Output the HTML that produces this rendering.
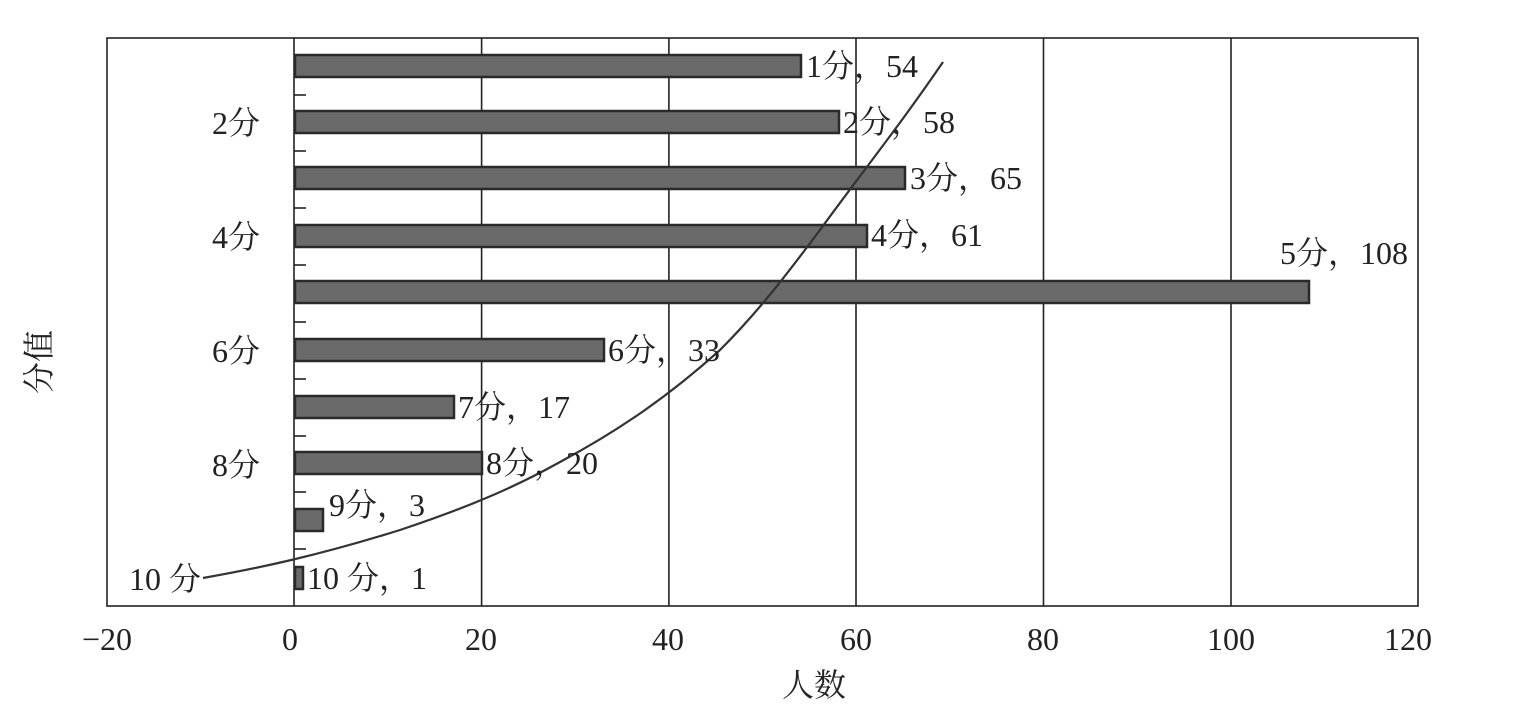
<!DOCTYPE html>
<html><head><meta charset="utf-8"><style>
html,body{margin:0;padding:0;background:#fff;}
svg text{font-family:"Liberation Serif","Noto Serif CJK SC",serif;fill:#222;}
</style></head><body>
<svg width="1538" height="719" viewBox="0 0 1538 719" xmlns="http://www.w3.org/2000/svg">
<g stroke="#222" stroke-width="1.6" fill="none">
<rect x="107" y="38" width="1311" height="568"/>
<line x1="294" y1="38" x2="294" y2="606"/>
<line x1="481.6" y1="38" x2="481.6" y2="606"/>
<line x1="668.9" y1="38" x2="668.9" y2="606"/>
<line x1="856" y1="38" x2="856" y2="606"/>
<line x1="1043.5" y1="38" x2="1043.5" y2="606"/>
<line x1="1231" y1="38" x2="1231" y2="606"/>
</g>
<g stroke="#222" stroke-width="1.6">
<line x1="294" y1="95" x2="306" y2="95"/><line x1="294" y1="151" x2="306" y2="151"/>
<line x1="294" y1="208" x2="306" y2="208"/><line x1="294" y1="265" x2="306" y2="265"/>
<line x1="294" y1="322" x2="306" y2="322"/><line x1="294" y1="379" x2="306" y2="379"/>
<line x1="294" y1="436" x2="306" y2="436"/><line x1="294" y1="492" x2="306" y2="492"/>
<line x1="294" y1="549" x2="306" y2="549"/>
</g>
<g fill="#6a6a6a" stroke="#2a2a2a" stroke-width="2.5">
<rect x="295" y="55" width="506" height="22"/>
<rect x="295" y="111" width="544" height="22"/>
<rect x="295" y="167" width="610" height="22"/>
<rect x="295" y="225" width="572" height="22"/>
<rect x="295" y="281" width="1014" height="22"/>
<rect x="295" y="339" width="309" height="22"/>
<rect x="295" y="396" width="159" height="22"/>
<rect x="295" y="452" width="187" height="22"/>
<rect x="295" y="509" width="28" height="22"/>
<rect x="295" y="567" width="8" height="22"/>
</g>
<path d="M203,578 C260,568 320,555 400,530 C460,510 510,490 560,462 C620,430 670,395 720,350 C760,310 790,270 820,230 C860,175 900,125 943,62" stroke="#333" stroke-width="2.2" fill="none"/>
<g font-size="32">
<text x="806" y="77">1分，54</text>
<text x="843" y="133">2分，58</text>
<text x="910" y="189">3分，65</text>
<text x="871" y="246">4分，61</text>
<text x="1408" y="264" text-anchor="end">5分，108</text>
<text x="608" y="361">6分，33</text>
<text x="458" y="418">7分，17</text>
<text x="486" y="474">8分，20</text>
<text x="329" y="516">9分，3</text>
<text x="307" y="589">10 分，1</text>
<g text-anchor="end">
<text x="260" y="134">2分</text>
<text x="260" y="248">4分</text>
<text x="260" y="362">6分</text>
<text x="260" y="476">8分</text>
<text x="201" y="590">10 分</text>
</g>
<g text-anchor="middle">
<text x="107" y="650">−20</text>
<text x="290" y="650">0</text>
<text x="481" y="650">20</text>
<text x="668" y="650">40</text>
<text x="856" y="650">60</text>
<text x="1043" y="650">80</text>
<text x="1231" y="650">100</text>
<text x="1408" y="650">120</text>
<text x="814" y="696">人数</text>
</g>
<text transform="translate(50,362) rotate(-90)" text-anchor="middle">分值</text>
</g>
</svg>
</body></html>
